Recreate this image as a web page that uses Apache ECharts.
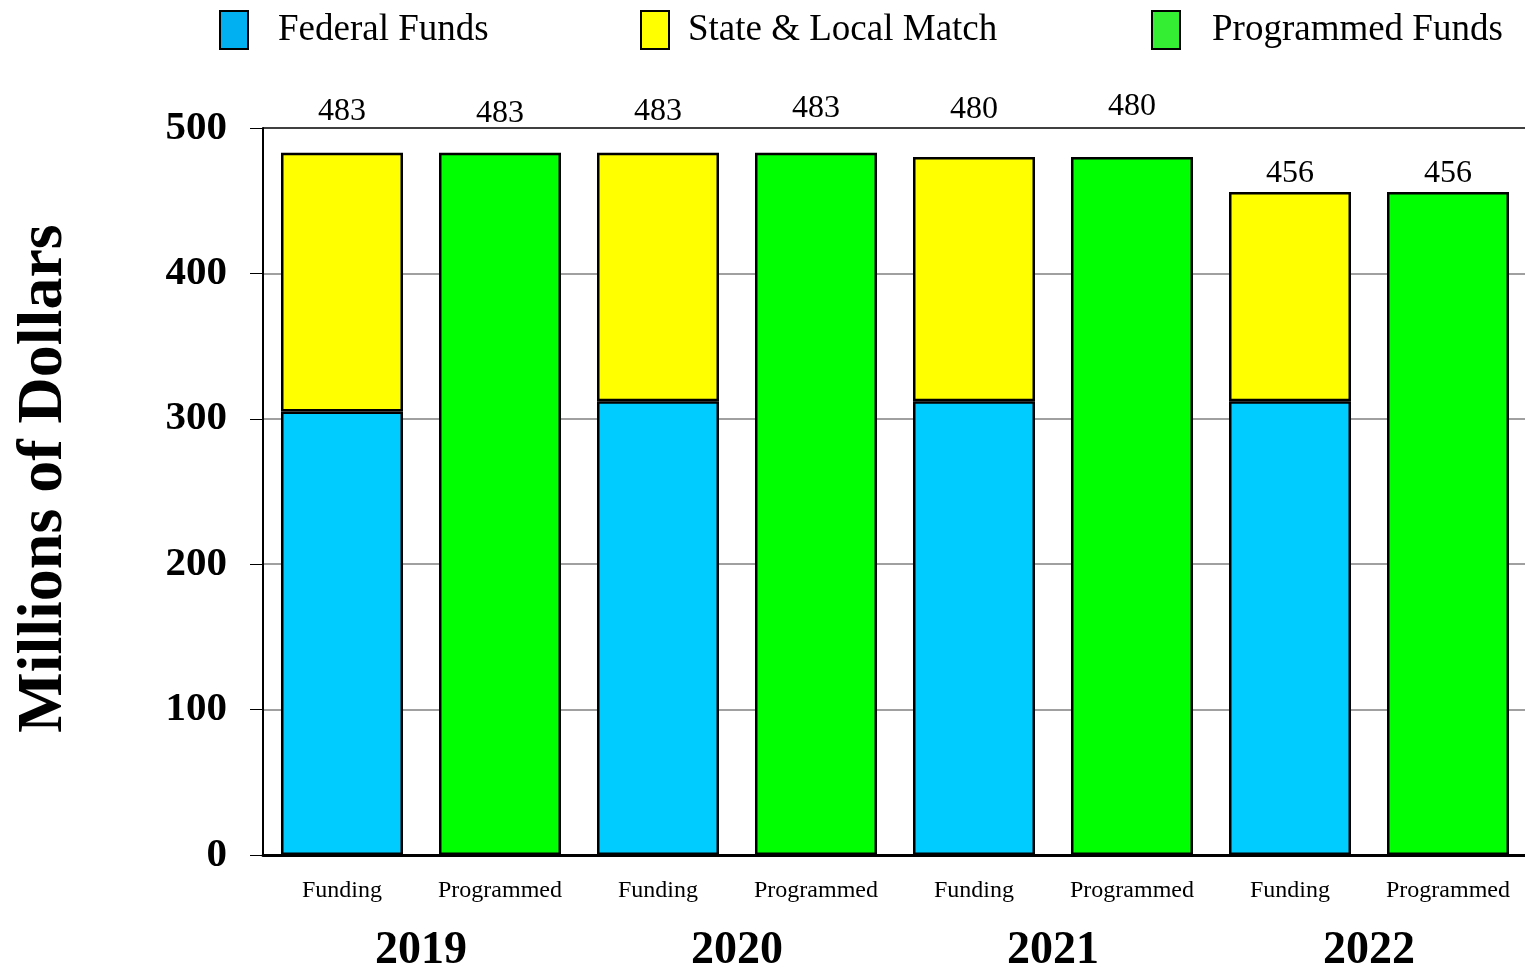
<!DOCTYPE html>
<html>
<head>
<meta charset="utf-8">
<title>Funding vs Programmed</title>
<script src="https://cdn.jsdelivr.net/npm/echarts@6/dist/echarts.min.js"></script>
<style>
  html, body { margin: 0; padding: 0; background: #fff; }
  #chart { width: 1525px; height: 969px; }
</style>
</head>
<body>
<div id="chart"></div>
<script>
// data
const years = ['2019', '2020', '2021', '2022']
const barKinds = ['Funding', 'Programmed']
const federalFunds = [305, 312, 312, 312]
const stateLocalMatch = [178, 171, 168, 144]
const programmedFunds = [483, 483, 480, 456]
const yTicks = [0, 100, 200, 300, 400, 500]

const serif = '"Liberation Serif", "Times New Roman", serif'

// one slot per bar: Funding / Programmed for every year
const categories = []
years.forEach(() => barKinds.forEach(k => categories.push(k)))

const federalData = []
const stateData = []
const programmedData = []
years.forEach((y, i) => {
  federalData.push(federalFunds[i], '-')
  stateData.push(stateLocalMatch[i], '-')
  programmedData.push('-', programmedFunds[i])
})

// labels sit above the top line, except the lower 2022 bars
const labelGap = [25, 23, 25, 28, 31, 34, 2, 2]

const withLabels = arr => arr.map((v, i) => {
  if (v === '-') return v
  return { value: v, label: { distance: labelGap[i] } }
})

const legendItem = (name, color, left, textGap) => ({
  left: left,
  top: 10,
  padding: 0,
  itemWidth: 28,
  itemHeight: 38,
  itemGap: 0,
  selectedMode: false,
  textStyle: { fontFamily: serif, fontSize: 37, color: '#000', padding: [6, 0, 0, textGap] },
  data: [{ name: name, icon: 'rect', itemStyle: { color: color, borderColor: '#000', borderWidth: 2 } }]
})

const barStyle = color => ({ color: color, borderColor: '#000', borderWidth: 2.5 })

const valueLabel = {
  show: true,
  position: 'top',
  fontFamily: serif,
  fontSize: 32,
  color: '#000'
}

const option = {
  animation: false,
  backgroundColor: '#fff',
  legend: [
    legendItem('Federal Funds', '#00B0F0', 219, 25),
    legendItem('State & Local Match', '#FFFF00', 640, 14),
    legendItem('Programmed Funds', '#33EE33', 1151, 27)
  ],
  grid: { left: 263, top: 128, width: 1264, height: 727, outerBoundsMode: 'none', containLabel: false },
  xAxis: [{
    type: 'category',
    data: categories,
    axisLine: { lineStyle: { color: '#000', width: 3 } },
    axisTick: { show: false },
    axisLabel: { fontFamily: serif, fontSize: 24, color: '#000', margin: 24, interval: 0 }
  }, {
    type: 'category',
    data: years,
    position: 'bottom',
    axisLine: { show: false },
    axisTick: { show: false },
    axisLabel: { fontFamily: serif, fontSize: 46, fontWeight: 'bold', color: '#000', margin: 73 }
  }],
  yAxis: {
    type: 'value',
    min: yTicks[0],
    max: yTicks[yTicks.length - 1],
    interval: 100,
    name: 'Millions of Dollars',
    nameLocation: 'middle',
    nameGap: 187,
    nameTextStyle: {
      fontFamily: serif, fontSize: 64, fontWeight: 'bold', color: '#000',
      padding: [0, 0, 0, 26]
    },
    axisLine: { show: true, lineStyle: { color: '#000', width: 2 } },
    axisTick: { show: true, length: 13, lineStyle: { color: '#000', width: 1 } },
    axisLabel: { fontFamily: serif, fontSize: 41, fontWeight: 'bold', color: '#000', margin: 36 },
    splitLine: {
      show: true,
      lineStyle: { color: ['#000', '#808080', '#808080', '#808080', '#808080', '#000'], width: 1.5 }
    }
  },
  series: [{
    name: 'Federal Funds',
    type: 'bar',
    stack: 'total',
    barWidth: 122,
    itemStyle: barStyle('#00CCFF'),
    data: federalData
  }, {
    name: 'State & Local Match',
    type: 'bar',
    stack: 'total',
    barWidth: 122,
    itemStyle: barStyle('#FFFF00'),
    label: Object.assign({}, valueLabel, {
      formatter: p => programmedFunds[Math.floor(p.dataIndex / 2)]
    }),
    data: withLabels(stateData)
  }, {
    name: 'Programmed Funds',
    type: 'bar',
    stack: 'total',
    barWidth: 122,
    itemStyle: barStyle('#00FF00'),
    label: valueLabel,
    data: withLabels(programmedData)
  }]
}

const chart = echarts.init(document.getElementById('chart'))
chart.setOption(option)
</script>
</body>
</html>
